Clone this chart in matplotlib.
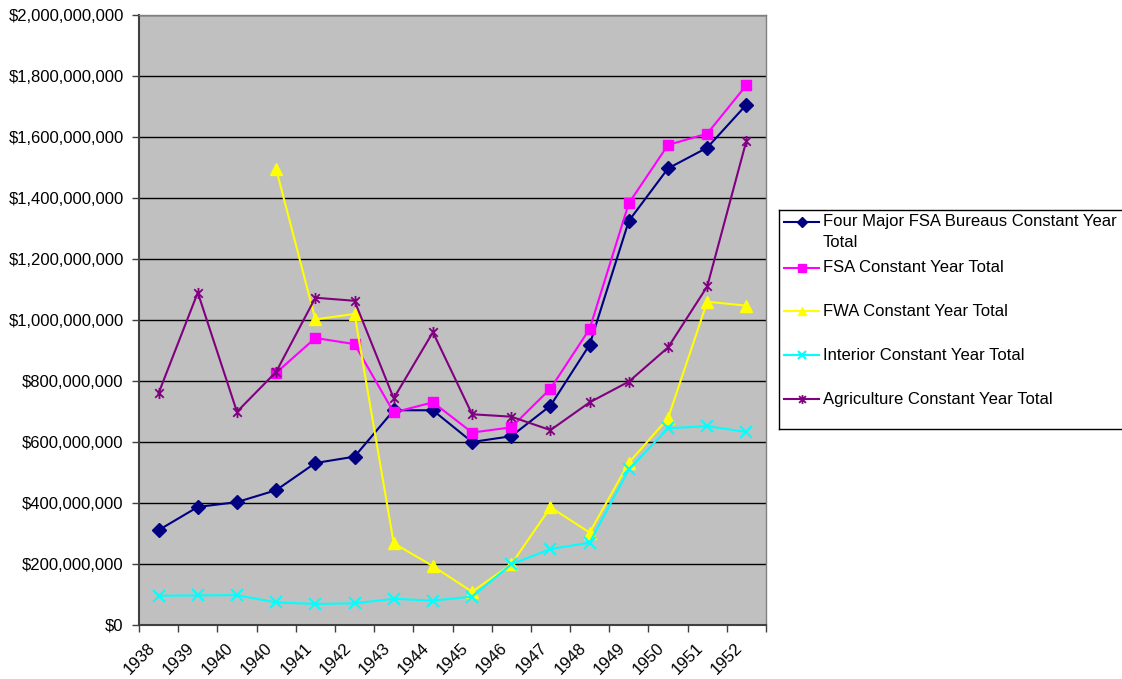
import matplotlib
matplotlib.use("Agg")
import matplotlib.pyplot as plt
from matplotlib.path import Path
from matplotlib.lines import Line2D
from matplotlib.ticker import FuncFormatter, FixedLocator
from matplotlib.transforms import ScaledTranslation
import numpy as np

plt.rcParams['font.family'] = ['Liberation Sans', 'DejaVu Sans']

years = ["1938", "1939", "1940", "1940", "1941", "1942", "1943", "1944",
         "1945", "1946", "1947", "1948", "1949", "1950", "1951", "1952"]

four_major = [311e6, 387e6, 403e6, 442e6, 531e6, 552e6, 704e6, 704e6,
              600e6, 619e6, 719e6, 919e6, 1325e6, 1497e6, 1565e6, 1706e6]
fsa = [None, None, None, 827e6, 941e6, 921e6, 697e6, 730e6,
       631e6, 648e6, 775e6, 971e6, 1383e6, 1574e6, 1611e6, 1770e6]
fwa = [None, None, None, 1495e6, 1002e6, 1020e6, 268e6, 193e6,
       109e6, 199e6, 386e6, 303e6, 532e6, 678e6, 1060e6, 1047e6]
interior = [96e6, 97e6, 98e6, 74e6, 69e6, 71e6, 86e6, 80e6,
            93e6, 199e6, 249e6, 270e6, 510e6, 645e6, 652e6, 633e6]
agriculture = [760e6, 1090e6, 699e6, 830e6, 1073e6, 1063e6, 743e6, 960e6,
               691e6, 683e6, 639e6, 730e6, 798e6, 910e6, 1110e6, 1588e6]

labels = [["Four Major FSA Bureaus Constant Year", "Total"],
          ["FSA Constant Year Total"],
          ["FWA Constant Year Total"],
          ["Interior Constant Year Total"],
          ["Agriculture Constant Year Total"]]

# asterisk marker: an x crossed by a vertical stroke
star = Path([(-1, -1), (1, 1), (-1, 1), (1, -1), (0, -1.3), (0, 1.3)],
            [Path.MOVETO, Path.LINETO, Path.MOVETO, Path.LINETO,
             Path.MOVETO, Path.LINETO])

styles = [
    dict(color="#000080", marker="D", ms=7, mfc="#000080", mec="#000080"),
    dict(color="#FF00FF", marker="s", ms=7.5, mfc="#FF00FF", mec="#FF00FF"),
    dict(color="#FFFF00", marker="^", ms=8, mfc="#FFFF00", mec="#FFFF00"),
    dict(color="#00FFFF", marker="x", ms=8, mfc="none", mec="#00FFFF", mew=1.5),
    dict(color="#800080", marker=star, ms=8, mfc="none", mec="#800080", mew=1.3),
]
series = [four_major, fsa, fwa, interior, agriculture]

W, H, DPI = 1122, 679, 100
fig = plt.figure(figsize=(W / DPI, H / DPI), dpi=DPI)
fig.patch.set_facecolor("white")

L, R, T, B = 139, 766, 15, 625
ax = fig.add_axes([L / W, 1 - B / H, (R - L) / W, (B - T) / H])
ax.set_facecolor("#C0C0C0")

x = np.arange(len(years)) + 0.5
for vals, st in zip(series, styles):
    y = np.array([np.nan if v is None else v for v in vals], dtype=float)
    ax.plot(x, y, lw=1.5, zorder=3, **st)

ax.set_xlim(0, len(years))
ax.set_ylim(0, 2e9)
ax.set_yticks(np.arange(0, 2.0e9 + 1, 2e8))
ax.yaxis.set_major_formatter(FuncFormatter(lambda v, p: "${:,.0f}".format(v)))
ax.grid(axis="y", color="black", lw=1.0, zorder=1)
ax.set_axisbelow(True)

ax.set_xticks(x)
ax.set_xticklabels(years, rotation=45, ha="right", va="center",
                   rotation_mode="anchor")
ax.xaxis.set_minor_locator(FixedLocator(np.arange(0, len(years) + 1)))
ax.tick_params(axis="x", which="major", length=0, pad=15)
ax.tick_params(axis="x", which="minor", length=5, width=1, color="#404040",
               direction="out")
ax.tick_params(axis="y", length=5, width=1, color="#404040", pad=6,
               direction="out")
ax.tick_params(labelsize=12, labelcolor="black")

shift = ScaledTranslation(-6 / DPI, 0, fig.dpi_scale_trans)
for lab in ax.get_xticklabels():
    lab.set_transform(lab.get_transform() + shift)

for side in ("left", "bottom"):
    ax.spines[side].set_color("#404040")
    ax.spines[side].set_linewidth(1.5)
for side in ("top", "right"):
    ax.spines[side].set_color("#808080")
    ax.spines[side].set_linewidth(1.0)

# legend box, laid out in pixel units
lx0, ly0, lx1, ly1 = 779, 210, 1140, 429
lax = fig.add_axes([lx0 / W, 1 - ly1 / H, (lx1 - lx0) / W, (ly1 - ly0) / H])
lax.set_xlim(lx0, lx1)
lax.set_ylim(ly1, ly0)
lax.set_xticks([])
lax.set_yticks([])
lax.set_facecolor("white")
for sp in lax.spines.values():
    sp.set_color("black")
    sp.set_linewidth(1.0)

entry_y = [221.7, 267.7, 311.0, 355.3, 399.3]
line_gap = 21
for yy, lines, st in zip(entry_y, labels, styles):
    st2 = dict(st)
    ms = st2.pop("ms") * 0.8
    lax.add_line(Line2D([784, 801.5, 819], [yy, yy, yy], lw=1.5, ms=ms,
                        markevery=[1], **st2))
    for k, txt in enumerate(lines):
        lax.text(823, yy + k * line_gap, txt, fontsize=12, va="center",
                 ha="left")

fig.savefig("out.png", dpi=DPI)
